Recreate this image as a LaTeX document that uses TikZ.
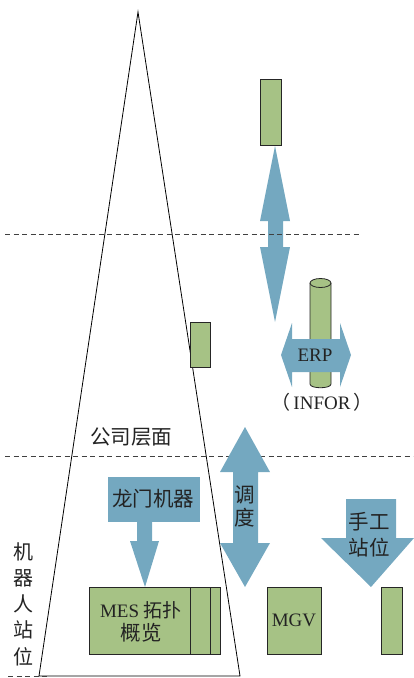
\documentclass[tikz,border=0pt]{standalone}
\usepackage{fontspec}
\setmainfont{Liberation Serif}
\newfontfamily\cjk{Noto Sans CJK SC}
\definecolor{boxgreen}{RGB}{166,194,133}
\definecolor{arrowblue}{RGB}{116,168,192}
\definecolor{txt}{RGB}{35,35,35}
\begin{document}
\begin{tikzpicture}[x=1pt,y=-1pt,
  gbox/.style={draw=black!85,line width=0.8pt,fill=boxgreen},
  barrow/.style={fill=arrowblue},
  dline/.style={draw=black!75,line width=0.7pt,dash pattern=on 5pt off 3.5pt},
  lbl/.style={text=txt,inner sep=0pt,font=\fontsize{19}{22}\selectfont},
  clbl/.style={text=txt,inner sep=0pt,font=\cjk\fontsize{20.5}{26}\selectfont}]
\useasboundingbox (0,0) rectangle (414,678);
% pyramid
\draw[black,line width=0.8pt] (138,12) -- (240,676) -- (39,676) -- cycle;
% top box
\draw[gbox] (260,79) rectangle (281,145);
% small middle box
\draw[gbox] (190,322) rectangle (210,367);
% vertical double arrow (top)
\fill[barrow] (275,146) -- (290,221) -- (283,221) -- (283,247) -- (290,247) -- (275,322)
  -- (260,247) -- (268,247) -- (268,221) -- (260,221) -- cycle;
% upper dashed line
\draw[dline] (5,234) -- (361,234);
% cylinder
\draw[gbox] (310,283) -- (310,384) .. controls (310,389) and (331,389) .. (331,384) -- (331,283);
\draw[gbox] (320.5,283) ellipse [x radius=10.5pt, y radius=4.5pt];
% ERP horizontal double arrow
\fill[barrow] (281,355) -- (292,323) -- (292,339) -- (340,339) -- (340,323) -- (351,355)
  -- (340,387) -- (340,372) -- (292,372) -- (292,387) -- cycle;
\node[lbl] (erp) at (315,355) {ERP};
\node[lbl] (infor) at (322,402) {{\cjk （}\,INFOR\,{\cjk ）}};
% lower dashed line
\draw[dline] (5,456) -- (413,456);
% company level
\node[clbl] (gs) at (131,437) {公司层面};
% dispatch double arrow
\fill[barrow] (245,427) -- (270,472) -- (258,472) -- (258,543) -- (270,543) -- (245,587)
  -- (220,543) -- (233,543) -- (233,472) -- (220,472) -- cycle;
\node[clbl,align=center,font=\cjk\fontsize{20.5}{23}\selectfont] (dd) at (245,506) {调\\度};
% gantry arrow
\fill[barrow] (108,477) rectangle (200,522);
\fill[barrow] (137,521) -- (137,541) -- (130,541) -- (145,587) -- (159,541) -- (152,541) -- (152,521) -- cycle;
\node[clbl] (lm) at (153,499) {龙门机器};
% MES box
\draw[gbox] (89,587) rectangle (220,654);
\draw[gbox] (190,587) rectangle (210,654);
\node[lbl] (mes) at (141,610) {MES {\cjk 拓扑}};
\node[clbl] (gl) at (141,633) {概览};
% robot station vertical text
\node[clbl,align=center,font=\cjk\fontsize{20}{26.3}\selectfont] (jq) at (23,604) {机\\器\\人\\站\\位};
\draw[dline] (8,676) -- (48,676);
% MGV box
\draw[gbox] (267,587) rectangle (321,654);
\node[lbl] (mgv) at (294,620) {MGV};
% manual station arrow
\fill[barrow] (346,499) -- (396,499) -- (396,538) -- (414,538) -- (371,587) -- (321,538) -- (346,538) -- cycle;
\node[clbl,align=center] (sg) at (369,535) {手工\\站位};
\draw[gbox] (381,587) rectangle (402,654);
\end{tikzpicture}
\end{document}
